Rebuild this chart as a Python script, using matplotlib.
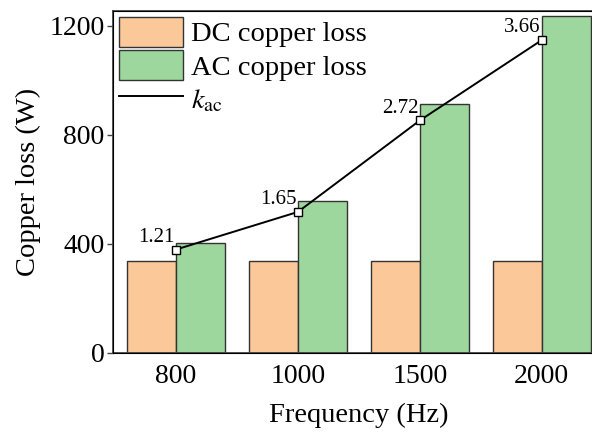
"""Copper loss vs. frequency with the AC/DC ratio overlay."""

import matplotlib.pyplot as plt
import numpy as np

plt.rcParams["font.family"] = ["Liberation Serif", "DejaVu Serif"]
plt.rcParams["mathtext.fontset"] = "stix"

frequencies = ["800", "1000", "1500", "2000"]
dc_loss = [338, 338, 338, 338]
ac_loss = [405, 557, 915, 1238]
k_ac = [1.21, 1.65, 2.72, 3.66]

dc_color = "#fac899"
ac_color = "#9dd79d"
edge = "#333333"

fig = plt.figure(figsize=(5.92, 4.32), dpi=100)
ax = fig.add_axes([113 / 592, 1 - 353 / 432, 491 / 592, 342 / 432])

x = np.arange(len(frequencies))
width = 0.4
ax.bar(x - width / 2, dc_loss, width, color=dc_color, edgecolor=edge,
       linewidth=1.0, label="DC copper loss")
ax.bar(x + width / 2, ac_loss, width, color=ac_color, edgecolor=edge,
       linewidth=1.0, label="AC copper loss")

ax.set_xlim(-0.516, 3.51)
ax.set_ylim(0, 1255)
ax.set_yticks([0, 400, 800, 1200])
ax.set_xticks(x)
ax.set_xticklabels(frequencies)
ax.tick_params(axis="x", length=0, pad=8, labelsize=20)
ax.tick_params(axis="y", direction="out", length=4, width=1.0,
               color="#444444", pad=2, labelsize=20)
for spine in ax.spines.values():
    spine.set_color("#444444")
    spine.set_linewidth(1.3)

ax.set_xlabel("Frequency (Hz)", fontsize=20.5, labelpad=10)
ax.set_ylabel("Copper loss (W)", fontsize=20.5, labelpad=6)

# ratio line lives on a hidden twin axis
ax2 = ax.twinx()
ax2.set_ylim(0, 4)
ax2.set_yticks([])
ax2.spines["right"].set_visible(False)
line, = ax2.plot(x, k_ac, color="black", linewidth=1.4, marker="s",
                 markersize=5.5, markerfacecolor="white",
                 markeredgecolor="black", markeredgewidth=1.0,
                 label=r"$k_{\mathrm{ac}}$", zorder=5)
for xi, k in zip(x, k_ac):
    ax2.annotate(f"{k:.2f}", (xi, k), xytext=(-1, 2), textcoords="offset points",
                 ha="right", va="bottom", fontsize=15)

handles, labels = ax.get_legend_handles_labels()
handles.append(line)
labels.append(r"$k_{\mathrm{ac}}$")
leg = ax2.legend(handles, labels, loc="upper left", fontsize=20.5, frameon=False,
                 handlelength=2.25, handleheight=1.25, handletextpad=0.3,
                 labelspacing=0.1, borderaxespad=0.1, borderpad=0.1)
leg.legend_handles[2].set_marker("")

fig.savefig("out.png", dpi=100)
plt.close(fig)
